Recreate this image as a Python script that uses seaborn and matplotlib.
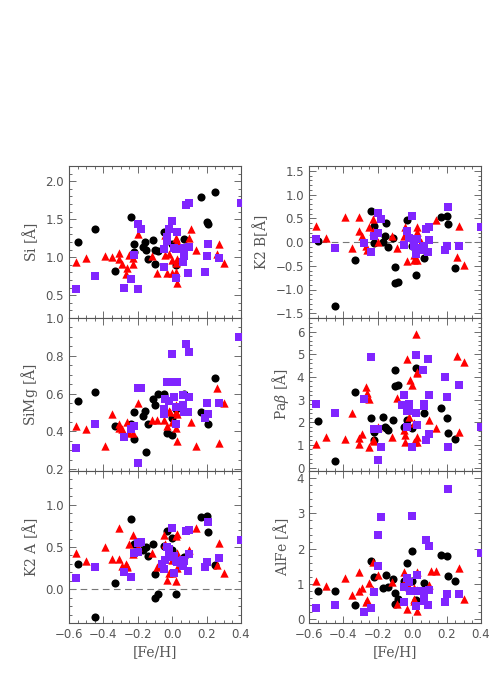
import numpy as np
import pandas as pd
import seaborn as sns
import matplotlib.pyplot as plt
from matplotlib.ticker import MultipleLocator

# datos: (x=[Fe/H], y=indice)
si_circ = [(-0.55, 1.20), (-0.45, 1.37), (-0.33, 0.82), (-0.24, 1.53), (-0.22, 1.17), (-0.22, 1.07),
           (-0.17, 1.14), (-0.16, 1.20), (-0.15, 1.09), (-0.14, 0.97), (-0.11, 1.23), (-0.10, 0.91),
           (-0.10, 1.09), (-0.08, 1.08), (-0.05, 1.33), (0.00, 1.18), (0.02, 0.90), (0.07, 1.24),
           (0.17, 1.79), (0.20, 1.46), (0.21, 1.44), (0.25, 1.86)]
si_tri = [(-0.56, 0.94), (-0.50, 0.99), (-0.39, 1.01), (-0.35, 1.00), (-0.31, 1.06), (-0.31, 0.98),
          (-0.29, 0.91), (-0.26, 0.86), (-0.27, 0.78), (-0.25, 1.03), (-0.23, 0.91), (-0.23, 0.99),
          (-0.20, 1.30), (-0.12, 1.01), (-0.09, 0.79), (-0.04, 1.29), (-0.04, 1.03), (-0.03, 0.79),
          (-0.02, 1.04), (0.00, 0.96), (0.00, 0.79), (0.02, 0.93), (0.02, 1.25), (0.02, 0.80),
          (0.03, 0.66), (0.03, 0.98), (0.03, 1.21), (0.10, 1.25), (0.11, 1.37), (0.14, 1.10),
          (0.26, 1.04), (0.27, 1.17), (0.30, 0.93)]
si_sq = [(-0.56, 0.58), (-0.45, 0.75), (-0.28, 0.59), (-0.24, 0.71), (-0.22, 1.03), (-0.20, 1.44),
         (-0.18, 1.37), (-0.20, 0.58), (-0.05, 1.11), (-0.05, 0.87), (-0.03, 1.21), (-0.03, 1.27),
         (-0.02, 1.37), (0.00, 1.47), (0.01, 1.12), (0.02, 1.11), (0.02, 0.72), (0.03, 1.33),
         (0.06, 0.94), (0.07, 1.12), (0.07, 1.01), (0.08, 1.69), (0.10, 1.71), (0.09, 0.79),
         (0.10, 1.13), (0.19, 0.80), (0.20, 1.02), (0.21, 1.18), (0.27, 0.99), (0.40, 1.71)]

simg_circ = [(-0.55, 0.56), (-0.45, 0.61), (-0.33, 0.43), (-0.24, 0.44), (-0.22, 0.50), (-0.22, 0.36),
             (-0.17, 0.48), (-0.16, 0.51), (-0.15, 0.29), (-0.14, 0.44), (-0.11, 0.57), (-0.10, 0.54),
             (-0.08, 0.60), (-0.05, 0.60), (-0.03, 0.39), (0.00, 0.38), (0.00, 0.47), (0.02, 0.52),
             (0.07, 0.60), (0.17, 0.50), (0.21, 0.44), (0.25, 0.68)]
simg_tri = [(-0.56, 0.43), (-0.50, 0.41), (-0.39, 0.32), (-0.35, 0.49), (-0.31, 0.44), (-0.31, 0.42),
            (-0.29, 0.41), (-0.26, 0.45), (-0.25, 0.39), (-0.23, 0.39), (-0.20, 0.55), (-0.12, 0.46),
            (-0.09, 0.46), (-0.05, 0.46), (-0.03, 0.43), (-0.02, 0.51), (-0.01, 0.50), (0.00, 0.45),
            (0.02, 0.42), (0.02, 0.50), (0.03, 0.35), (0.02, 0.54), (0.03, 0.49), (0.11, 0.45),
            (0.14, 0.32), (0.26, 0.63), (0.27, 0.34), (0.30, 0.55)]
simg_sq = [(-0.56, 0.31), (-0.45, 0.44), (-0.28, 0.37), (-0.24, 0.41), (-0.22, 0.43), (-0.20, 0.63),
           (-0.18, 0.63), (-0.20, 0.23), (-0.05, 0.52), (-0.05, 0.49), (-0.03, 0.66), (-0.02, 0.66),
           (-0.04, 0.57), (-0.02, 0.56), (0.00, 0.81), (0.01, 0.58), (0.02, 0.53), (0.02, 0.44),
           (0.03, 0.66), (0.06, 0.59), (0.06, 0.54), (0.07, 0.50), (0.08, 0.86), (0.10, 0.82),
           (0.09, 0.50), (0.10, 0.58), (0.19, 0.47), (0.20, 0.55), (0.21, 0.49), (0.27, 0.55),
           (0.39, 0.90)]

k2a_circ = [(-0.55, 0.30), (-0.45, -0.33), (-0.33, 0.07), (-0.24, 0.83), (-0.22, 0.53), (-0.17, 0.46),
            (-0.15, 0.50), (-0.14, 0.39), (-0.11, 0.54), (-0.10, 0.18), (-0.10, -0.10), (-0.08, -0.06),
            (-0.05, 0.51), (-0.03, 0.69), (0.00, 0.61), (0.00, 0.46), (0.02, -0.06), (0.07, 0.38),
            (0.17, 0.85), (0.20, 0.87), (0.21, 0.68), (0.25, 0.29)]
k2a_tri = [(-0.56, 0.43), (-0.50, 0.33), (-0.39, 0.50), (-0.35, 0.36), (-0.31, 0.73), (-0.31, 0.36),
           (-0.29, 0.28), (-0.27, 0.30), (-0.26, 0.28), (-0.26, 0.26), (-0.25, 0.54), (-0.23, 0.64),
           (-0.23, 0.42), (-0.20, 0.50), (-0.12, 0.43), (-0.09, 0.26), (-0.05, 0.64), (-0.04, 0.54),
           (-0.03, 0.11), (-0.02, 0.19), (0.00, 0.35), (0.00, 0.19), (0.02, 0.63), (0.02, 0.10),
           (0.03, 0.65), (0.03, 0.43), (0.03, 0.25), (0.10, 0.47), (0.14, 0.72), (0.26, 0.29),
           (0.27, 0.55), (0.30, 0.19)]
k2a_sq = [(-0.56, 0.13), (-0.45, 0.26), (-0.28, 0.20), (-0.24, 0.15), (-0.22, 0.43), (-0.20, 0.44),
          (-0.20, 0.55), (-0.18, 0.56), (-0.06, 0.30), (-0.05, 0.24), (-0.04, 0.35), (-0.03, 0.50),
          (-0.02, 0.38), (-0.02, 0.48), (0.00, 0.72), (0.01, 0.39), (0.01, 0.19), (0.02, 0.34),
          (0.03, 0.32), (0.05, 0.31), (0.06, 0.35), (0.06, 0.28), (0.07, 0.34), (0.08, 0.69),
          (0.09, 0.22), (0.10, 0.70), (0.10, 0.42), (0.19, 0.26), (0.20, 0.32), (0.21, 0.80),
          (0.27, 0.37), (0.40, 0.58)]

k2b_circ = [(-0.55, 0.03), (-0.45, -1.34), (-0.33, -0.38), (-0.24, 0.66), (-0.22, 0.33), (-0.22, -0.02),
            (-0.17, 0.00), (-0.16, 0.12), (-0.15, 0.40), (-0.14, -0.11), (-0.11, 0.08), (-0.10, -0.52),
            (-0.10, -0.87), (-0.08, -0.85), (-0.03, 0.47), (0.00, -0.09), (0.02, -0.69), (0.07, -0.33),
            (0.17, 0.52), (0.20, 0.55), (0.21, 0.37), (0.25, -0.55)]
k2b_tri = [(-0.56, 0.33), (-0.50, 0.09), (-0.39, 0.52), (-0.35, -0.13), (-0.31, 0.52), (-0.31, 0.24),
           (-0.29, 0.12), (-0.27, -0.09), (-0.26, -0.17), (-0.25, 0.31), (-0.23, 0.49), (-0.23, 0.24),
           (-0.20, 0.00), (-0.12, 0.13), (-0.09, -0.13), (-0.05, 0.12), (-0.04, 0.31), (-0.03, -0.40),
           (0.01, -0.38), (0.01, -0.28), (0.03, -0.38), (0.03, 0.31), (0.03, 0.21), (0.05, 0.00),
           (0.14, 0.47), (0.26, -0.32), (0.27, 0.33), (0.30, -0.48)]
k2b_sq = [(-0.56, 0.07), (-0.45, -0.12), (-0.28, -0.03), (-0.24, -0.20), (-0.22, 0.12), (-0.20, 0.19),
          (-0.20, 0.62), (-0.18, 0.48), (-0.05, -0.07), (-0.03, 0.23), (-0.02, 0.09), (0.00, 0.54),
          (0.01, -0.08), (0.02, -0.12), (0.02, -0.25), (0.03, 0.06), (0.07, -0.16), (0.07, -0.08),
          (0.08, 0.27), (0.10, 0.32), (0.09, -0.21), (0.10, 0.05), (0.19, -0.17), (0.20, -0.09),
          (0.21, 0.73), (0.27, -0.09), (0.40, 0.31)]

pab_circ = [(-0.55, 2.06), (-0.45, 0.28), (-0.33, 3.32), (-0.24, 2.18), (-0.22, 1.55), (-0.22, 1.21),
            (-0.17, 2.24), (-0.16, 1.81), (-0.15, 1.73), (-0.14, 1.65), (-0.11, 2.11), (-0.10, 4.32),
            (-0.10, 3.61), (-0.08, 3.66), (-0.05, 1.80), (-0.03, 2.09), (0.00, 1.73), (0.02, 4.38),
            (0.07, 2.42), (0.17, 2.65), (0.20, 2.20), (0.21, 1.53), (0.25, 1.24)]
pab_tri = [(-0.56, 1.02), (-0.50, 1.33), (-0.39, 1.24), (-0.35, 2.39), (-0.31, 1.31), (-0.31, 1.06),
           (-0.29, 1.49), (-0.27, 3.57), (-0.26, 3.27), (-0.25, 3.02), (-0.25, 0.91), (-0.23, 1.21),
           (-0.22, 1.17), (-0.20, 1.80), (-0.12, 1.36), (-0.09, 3.08), (-0.05, 1.65), (-0.04, 1.43),
           (-0.04, 1.14), (-0.03, 4.79), (-0.02, 2.24), (-0.01, 3.86), (0.00, 3.64), (0.01, 1.95),
           (0.01, 1.14), (0.02, 5.88), (0.03, 4.16), (0.03, 4.22), (0.03, 1.36), (0.03, 1.11),
           (0.10, 2.09), (0.14, 1.76), (0.26, 4.94), (0.27, 1.55), (0.30, 4.68)]
pab_sq = [(-0.56, 2.79), (-0.45, 2.43), (-0.28, 3.02), (-0.24, 4.90), (-0.22, 1.70), (-0.20, 1.70),
          (-0.20, 0.32), (-0.18, 0.91), (-0.05, 3.20), (-0.06, 2.76), (-0.03, 1.80), (-0.02, 2.79),
          (-0.02, 2.49), (-0.03, 2.49), (0.00, 0.91), (0.02, 2.43), (0.02, 4.97), (0.03, 1.87),
          (0.06, 4.31), (0.07, 2.79), (0.07, 2.71), (0.08, 1.21), (0.09, 4.79), (0.10, 3.20),
          (0.10, 1.50), (0.19, 4.01), (0.20, 3.13), (0.21, 0.90), (0.27, 3.64), (0.40, 1.77)]

alfe_circ = [(-0.55, 0.81), (-0.45, 0.80), (-0.33, 0.40), (-0.24, 1.65), (-0.22, 1.19), (-0.17, 0.90),
             (-0.15, 1.27), (-0.14, 0.92), (-0.11, 1.14), (-0.10, 0.74), (-0.10, 0.44), (-0.08, 0.59),
             (-0.05, 1.08), (-0.03, 1.60), (0.00, 1.94), (0.00, 1.08), (0.02, 0.55), (0.07, 1.04),
             (0.17, 1.82), (0.20, 1.79), (0.21, 1.22), (0.25, 1.10)]
alfe_tri = [(-0.56, 1.08), (-0.50, 0.95), (-0.39, 1.16), (-0.35, 0.69), (-0.31, 1.35), (-0.31, 0.80),
            (-0.29, 0.88), (-0.27, 0.48), (-0.26, 0.55), (-0.25, 1.04), (-0.23, 1.63), (-0.23, 0.83),
            (-0.20, 1.25), (-0.12, 1.06), (-0.09, 0.45), (-0.05, 1.35), (-0.04, 1.11), (-0.03, 0.29),
            (-0.02, 0.92), (0.01, 0.59), (0.01, 0.52), (0.01, 0.88), (0.03, 1.35), (0.03, 0.24),
            (0.03, 0.83), (0.10, 0.97), (0.11, 1.36), (0.14, 1.36), (0.27, 1.46), (0.30, 0.59)]
alfe_sq = [(-0.56, 0.33), (-0.45, 0.42), (-0.28, 0.22), (-0.24, 0.33), (-0.22, 0.78), (-0.20, 2.38),
           (-0.20, 1.51), (-0.18, 2.90), (-0.05, 0.92), (-0.05, 0.48), (-0.03, 1.16), (-0.02, 1.06),
           (-0.01, 0.80), (0.00, 2.93), (0.02, 0.80), (0.02, 0.39), (0.03, 1.25), (0.06, 0.80),
           (0.07, 0.52), (0.07, 0.67), (0.08, 2.24), (0.09, 0.42), (0.10, 2.07), (0.10, 0.83),
           (0.19, 0.48), (0.20, 0.72), (0.21, 3.68), (0.27, 0.73), (0.40, 1.89)]

# paneles: (datos, etiqueta, ylim, major, minor, linea en cero)
panels = [
    ([si_circ, si_tri, si_sq], r'Si [$\rm\AA$]', (0.2, 2.2), 0.5, 0.1, False),
    ([k2b_circ, k2b_tri, k2b_sq], r'K2 B[$\rm\AA$]', (-1.6, 1.6), 0.5, 0.1, True),
    ([simg_circ, simg_tri, simg_sq], r'SiMg [$\rm\AA$]', (0.19, 1.0), 0.2, 0.05, False),
    ([pab_circ, pab_tri, pab_sq], r'Pa$\beta$ [$\rm\AA$]', (-0.15, 6.6), 1, 0.2, False),
    ([k2a_circ, k2a_tri, k2a_sq], r'K2 A [$\rm\AA$]', (-0.4, 1.4), 0.5, 0.1, True),
    ([alfe_circ, alfe_tri, alfe_sq], r'AlFe [$\rm\AA$]', (-0.1, 4.2), 1, 0.2, False),
]

sns.set_style('ticks')
plt.rcParams['mathtext.fontset'] = 'dejavuserif'
gris = '#555555'

estilos = [('o', 'black', 34), ('^', '#ff0000', 36), ('s', '#8025ff', 30)]

fig = plt.figure(figsize=(4.91, 6.93), dpi=100)
izq = [69 / 491, 309 / 491]
filas = [(166, 318), (318, 471), (471, 623)]

for k, (grupos, etiqueta, ylim, mayor, menor, cero) in enumerate(panels):
    fila, col = k // 2, k % 2
    top, bot = filas[fila]
    ax = fig.add_axes([izq[col], 1 - bot / 693, 172 / 491, (bot - top) / 693])
    for puntos, (m, c, s) in zip(grupos, estilos):
        df = pd.DataFrame(puntos, columns=['feh', 'val'])
        sns.scatterplot(data=df, x='feh', y='val', marker=m, color=c, s=s,
                        linewidth=0, ax=ax, clip_on=True, zorder=3)
    if cero:
        ax.axhline(0, color='#777777', lw=0.8, ls=(0, (6, 4)), zorder=1)
    ax.set_xlim(-0.6, 0.4)
    ax.set_ylim(*ylim)
    ax.xaxis.set_major_locator(MultipleLocator(0.2))
    ax.xaxis.set_minor_locator(MultipleLocator(0.05))
    ax.yaxis.set_major_locator(MultipleLocator(mayor))
    ax.yaxis.set_minor_locator(MultipleLocator(menor))
    ax.tick_params(which='both', direction='in', top=True, right=True, colors=gris,
                   labelcolor=gris, labelsize=8.5, width=0.6)
    ax.tick_params(which='major', length=5)
    ax.tick_params(which='minor', length=2.5)
    for lado in ax.spines.values():
        lado.set_color(gris)
        lado.set_linewidth(0.8)
    ax.set_ylabel(etiqueta, family='DejaVu Serif', fontsize=10, color=gris, labelpad=4)
    if fila == 2:
        ax.set_xlabel('[Fe/H]', family='DejaVu Serif', fontsize=10, color=gris, labelpad=3)
    else:
        ax.set_xlabel('')
        ax.tick_params(labelbottom=False)

fig.savefig('out.png', dpi=100)
